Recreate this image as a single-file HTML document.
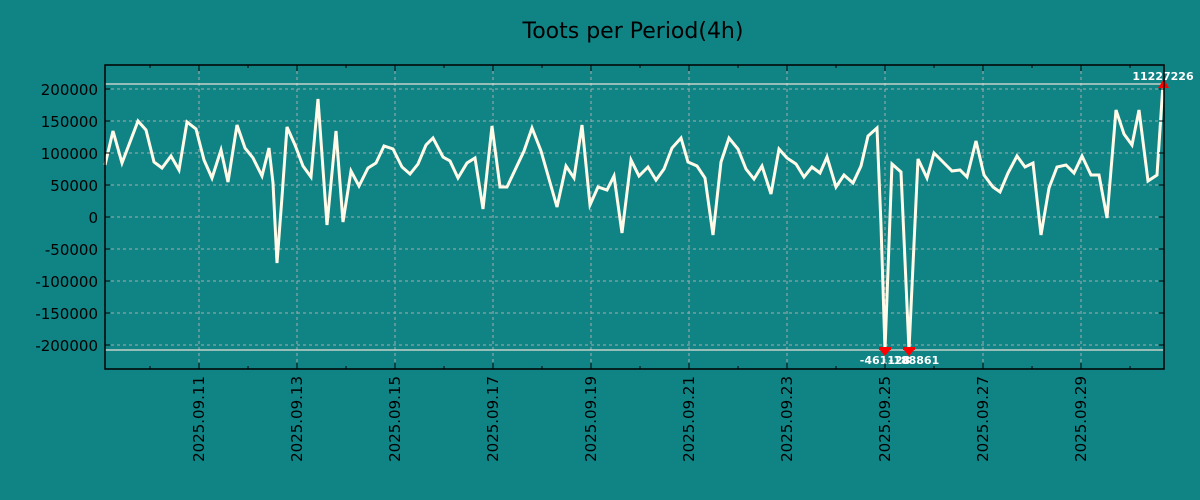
<!DOCTYPE html>
<html><head><meta charset="utf-8"><style>
html,body{margin:0;padding:0;background:#108385;}
svg{display:block}
text{font-family:"DejaVu Sans","Liberation Sans",sans-serif;}
</style></head><body>
<svg width="1200" height="500" viewBox="0 0 1200 500" xmlns="http://www.w3.org/2000/svg">
<rect width="1200" height="500" fill="#108385"/>
<text x="633" y="38" font-size="22" text-anchor="middle" fill="#000">Toots per Period(4h)</text>
<g stroke="#c8b8b8" stroke-width="1" stroke-dasharray="3,3" opacity="0.8">
<line x1="105" x2="1164" y1="89" y2="89"/><line x1="105" x2="1164" y1="121" y2="121"/>
<line x1="105" x2="1164" y1="153" y2="153"/><line x1="105" x2="1164" y1="185" y2="185"/>
<line x1="105" x2="1164" y1="217" y2="217"/><line x1="105" x2="1164" y1="249" y2="249"/>
<line x1="105" x2="1164" y1="281" y2="281"/><line x1="105" x2="1164" y1="313" y2="313"/>
<line x1="105" x2="1164" y1="345" y2="345"/>
<line y1="65" y2="369" x1="199" x2="199"/><line y1="65" y2="369" x1="297" x2="297"/>
<line y1="65" y2="369" x1="395" x2="395"/><line y1="65" y2="369" x1="493" x2="493"/>
<line y1="65" y2="369" x1="591" x2="591"/><line y1="65" y2="369" x1="689" x2="689"/>
<line y1="65" y2="369" x1="787" x2="787"/><line y1="65" y2="369" x1="885" x2="885"/>
<line y1="65" y2="369" x1="983" x2="983"/><line y1="65" y2="369" x1="1081" x2="1081"/>
</g>
<line x1="105" x2="1164" y1="84" y2="84" stroke="#e8e0d8" stroke-width="1.2"/>
<line x1="105" x2="1164" y1="350" y2="350" stroke="#e8e0d8" stroke-width="1.2"/>
<polyline fill="none" stroke="#fffbe8" stroke-width="3" stroke-linejoin="miter" points="105,165 113,131 122,163 138,121 146,130 154,162 162,168 171,156 179,170 187,122 196,129 204,160 212,178 221,150 228,182 237,125 245,148 253,158 262,176 269,148 273,183 277,263 282,197 287,127 295,145 303,166 311,177 318,99 327,225 336,131 343,222 351,171 359,186 368,168 376,163 384,146 393,149 402,167 410,174 418,164 426,145 433,138 443,157 450,161 458,178 467,163 475,158 483,209 492,126 500,187 507,187 524,151 532,128 541,151 557,207 566,166 574,178 582,125 590,205 598,187 607,190 614,176 622,233 631,160 639,176 648,167 656,180 664,169 672,148 681,138 688,162 697,166 705,178 713,235 721,162 729,138 738,149 746,169 754,179 762,166 771,194 779,149 787,158 796,164 804,177 812,167 820,173 827,157 836,187 844,175 853,183 861,166 868,136 877,128 881,225 885,350 892,164 901,172 909,350 918,159 927,178 934,153 943,162 952,171 960,170 967,177 976,141 984,175 993,187 1000,192 1008,173 1017,156 1025,167 1033,163 1041,235 1049,188 1057,167 1066,165 1074,173 1082,156 1091,175 1099,175 1107,218 1116,110 1124,134 1132,145 1139,110 1148,181 1157,175 1163,84"/>
<g fill="#ff0000">
<rect x="879" y="347" width="12" height="3"/><polygon points="880,350 890,350 885,356"/>
<rect x="903" y="347" width="12" height="3"/><polygon points="904,350 914,350 909,356"/>
<polygon points="1158,88 1169,88 1164,79"/>
</g>
<g font-family="Liberation Mono,monospace" font-size="11" font-weight="bold" fill="#fff">
<text x="885" y="364" text-anchor="middle">-461128</text>
<text x="914" y="364" text-anchor="middle">-188861</text>
<text x="1163" y="80" text-anchor="middle">11227226</text>
</g>
<rect x="105" y="65" width="1059" height="304" fill="none" stroke="#000" stroke-width="1.5"/>
<g stroke="#000" stroke-width="1">
<path d="M105,89h5M105,121h5M105,153h5M105,185h5M105,217h5M105,249h5M105,281h5M105,313h5M105,345h5"/>
<path d="M1164,89h-5M1164,121h-5M1164,153h-5M1164,185h-5M1164,217h-5M1164,249h-5M1164,281h-5M1164,313h-5M1164,345h-5"/>
<path d="M150,369v-3M199,369v-6M248,369v-3M297,369v-6M346,369v-3M395,369v-6M444,369v-3M493,369v-6M542,369v-3M591,369v-6M640,369v-3M689,369v-6M738,369v-3M787,369v-6M836,369v-3M885,369v-6M934,369v-3M983,369v-6M1032,369v-3M1081,369v-6M1130,369v-3"/>
<path d="M150,65v3M199,65v6M248,65v3M297,65v6M346,65v3M395,65v6M444,65v3M493,65v6M542,65v3M591,65v6M640,65v3M689,65v6M738,65v3M787,65v6M836,65v3M885,65v6M934,65v3M983,65v6M1032,65v3M1081,65v6M1130,65v3"/>
</g>
<g font-size="15" fill="#000" text-anchor="end">
<text x="98" y="95">200000</text><text x="98" y="127">150000</text><text x="98" y="159">100000</text>
<text x="98" y="191">50000</text><text x="98" y="223">0</text><text x="98" y="255">-50000</text>
<text x="98" y="287">-100000</text><text x="98" y="319">-150000</text><text x="98" y="351">-200000</text>
</g>
<g font-size="15" fill="#000" text-anchor="end">
<text transform="translate(204,376) rotate(-90)">2025.09.11</text>
<text transform="translate(302,376) rotate(-90)">2025.09.13</text>
<text transform="translate(400,376) rotate(-90)">2025.09.15</text>
<text transform="translate(498,376) rotate(-90)">2025.09.17</text>
<text transform="translate(596,376) rotate(-90)">2025.09.19</text>
<text transform="translate(694,376) rotate(-90)">2025.09.21</text>
<text transform="translate(792,376) rotate(-90)">2025.09.23</text>
<text transform="translate(890,376) rotate(-90)">2025.09.25</text>
<text transform="translate(988,376) rotate(-90)">2025.09.27</text>
<text transform="translate(1086,376) rotate(-90)">2025.09.29</text>
</g>
</svg>
</body></html>
